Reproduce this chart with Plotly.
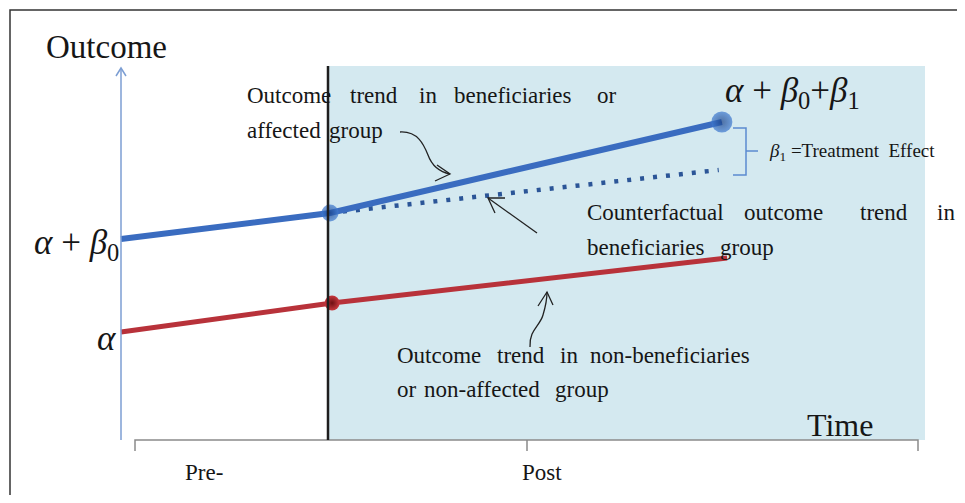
import plotly.graph_objects as go

# the page body has an 8px margin, so the figure starts at (8, 8) in the window;
# keep it inside the window so no scrollbars appear
OFF = 8
W, H = 965 - 2 * OFF, 503 - 2 * OFF

# data (x = time units, y = outcome units)
treated_time = [0, 1, 2.875]
treated = [2.01, 2.27, 3.18]
control_time = [0, 1.01, 2.90]
control = [1.08, 1.37, 1.82]
counterfactual_time = [1, 2.86]
counterfactual = [2.27, 2.70]

period_labels = ["Pre-", "Post"]

BLUE = "#3A6CC0"
RED = "#B8323A"
FONT = "Liberation Serif"

# axis scale: 209 px per time unit (0 at x=121), 100 px per outcome unit (0 at y=440)
X0, XS = 121, 209
Y0, YS = 440, 100
x_range = [(OFF - X0) / XS, (OFF + W - X0) / XS]
y_range = [(Y0 - OFF - H) / YS, (Y0 - OFF) / YS]


def px(x):
    return (x - OFF) / W


def py(y):
    return 1 - (y - OFF) / H


fig = go.Figure()

fig.add_trace(go.Scatter(
    x=counterfactual_time, y=counterfactual, mode="lines",
    line=dict(color="#2B5597", width=4.5, dash="4px,9px"),
    hoverinfo="skip"
))
fig.add_trace(go.Scatter(
    x=control_time, y=control, mode="lines",
    line=dict(color=RED, width=5), hoverinfo="skip"
))
fig.add_trace(go.Scatter(
    x=treated_time, y=treated, mode="lines",
    line=dict(color=BLUE, width=6), hoverinfo="skip"
))
fig.add_trace(go.Scatter(
    x=control_time[1:2], y=control[1:2], mode="markers",
    marker=dict(size=15, color="#C8383E",
                gradient=dict(type="radial", color="#6E1013"),
                line=dict(width=0)),
    hoverinfo="skip"
))
fig.add_trace(go.Scatter(
    x=treated_time[1:], y=treated[1:], mode="markers",
    marker=dict(size=[17, 21], color="#3F7BD2",
                gradient=dict(type="radial", color="#173F84"),
                line=dict(width=0)),
    hoverinfo="skip"
))

ARROW = dict(color="#222222", width=1.3)

shapes = [
    # post period shading
    dict(type="rect", xref="paper", yref="paper", layer="below",
         x0=px(328), x1=px(925), y0=py(440), y1=py(66),
         fillcolor="#D4E9F0", line=dict(width=0)),
    # frame (top and left edges only)
    dict(type="path", xref="paper", yref="paper",
         path=f"M {px(10)},{py(495)} L {px(10)},{py(10)} L {px(957)},{py(10)}",
         line=dict(color="#333333", width=1.5)),
    # outcome axis
    dict(type="path", xref="paper", yref="paper",
         path=f"M {px(121)},{py(440)} L {px(121)},{py(68)}",
         line=dict(color="#7C9ED3", width=1.5)),
    dict(type="path", xref="paper", yref="paper",
         path=f"M {px(116)},{py(76)} L {px(121)},{py(68)} L {px(126)},{py(76)}",
         line=dict(color="#7C9ED3", width=1.5)),
    # time axis with ticks
    dict(type="path", xref="paper", yref="paper",
         path=(f"M {px(135)},{py(451)} L {px(135)},{py(440)} L {px(918)},{py(440)} "
               f"L {px(918)},{py(451)} M {px(527)},{py(440)} L {px(527)},{py(451)}"),
         line=dict(color="#8A8A8A", width=1.5)),
    # treatment start
    dict(type="line", xref="paper", yref="paper", layer="above",
         x0=px(328), x1=px(328), y0=py(440), y1=py(66),
         line=dict(color="#1E1E1E", width=2.5)),
    # treatment effect bracket
    dict(type="path", xref="paper", yref="paper",
         path=(f"M {px(733)},{py(128)} L {px(746)},{py(128)} L {px(746)},{py(175)} "
               f"L {px(733)},{py(175)} M {px(746)},{py(151)} L {px(758)},{py(151)}"),
         line=dict(color="#5B8BD0", width=1.5)),
    # curved arrow to treated trend
    dict(type="path", xref="paper", yref="paper",
         path=(f"M {px(400)},{py(132)} C {px(418)},{py(131)} {px(424)},{py(145)} {px(428)},{py(155)} "
               f"C {px(432)},{py(166)} {px(440)},{py(172)} {px(450)},{py(174)}"),
         line=ARROW),
    dict(type="path", xref="paper", yref="paper",
         path=f"M {px(437)},{py(165)} L {px(450)},{py(174)} L {px(435)},{py(181)}",
         line=ARROW),
    # arrow to counterfactual
    dict(type="path", xref="paper", yref="paper",
         path=f"M {px(537)},{py(233)} L {px(488)},{py(198)}",
         line=ARROW),
    dict(type="path", xref="paper", yref="paper",
         path=f"M {px(505)},{py(198)} L {px(488)},{py(198)} L {px(495)},{py(213)}",
         line=ARROW),
    # curved arrow to control trend
    dict(type="path", xref="paper", yref="paper",
         path=(f"M {px(530)},{py(347)} C {px(529)},{py(330)} {px(540)},{py(326)} {px(543)},{py(315)} "
               f"C {px(546)},{py(305)} {px(547)},{py(298)} {px(547)},{py(292)}"),
         line=ARROW),
    dict(type="path", xref="paper", yref="paper",
         path=f"M {px(538)},{py(306)} L {px(547)},{py(292)} L {px(553)},{py(305)}",
         line=ARROW),
]

annotations = []


def label(text, x, y, size, anchor="left", color="#161616"):
    annotations.append(dict(
        text=text, xref="paper", yref="paper", x=px(x), y=py(y),
        xanchor=anchor, yanchor="middle", showarrow=False,
        font=dict(family=FONT, size=size, color=color)
    ))


# justified paragraph words: (word, left x, centre y)
words = [
    ("Outcome", 245, 95), ("trend", 348, 95), ("in", 417, 95),
    ("beneficiaries", 452, 95), ("or", 595, 95),
    ("affected", 245, 130), ("group", 327, 130),
    ("Counterfactual", 585, 213), ("outcome", 742, 213), ("trend", 858, 213), ("in", 935, 213),
    ("beneficiaries", 585, 247), ("group", 718, 247),
    ("Outcome", 395, 355), ("trend", 495, 355), ("in", 558, 355), ("non-beneficiaries", 588, 355),
    ("or", 395, 389), ("non-affected", 422, 389), ("group", 553, 389),
]
for w, x, y in words:
    label(w, x, y, 23)

label("Outcome", 44, 47, 33)
label("Time", 805, 425, 32)
label(period_labels[0], 183, 472, 23)
label(period_labels[1], 520, 472, 23)

label("<i>α</i> + <i>β</i><sub>0</sub>+<i>β</i><sub>1</sub>", 723, 92, 35)
label("<i>α</i> + <i>β</i><sub>0</sub>", 121, 244, 35, anchor="right")
label("<i>α</i>", 118, 338, 35, anchor="right")
label("<i>β</i><sub>1</sub> =Treatment  Effect", 767, 152, 19)

fig.update_layout(
    width=W, height=H,
    margin=dict(l=0, r=0, t=0, b=0),
    paper_bgcolor="white", plot_bgcolor="white",
    showlegend=False,
    xaxis=dict(range=x_range, visible=False, fixedrange=True),
    yaxis=dict(range=y_range, visible=False, fixedrange=True),
    shapes=shapes,
    annotations=annotations,
)

fig.write_html("out.html")
